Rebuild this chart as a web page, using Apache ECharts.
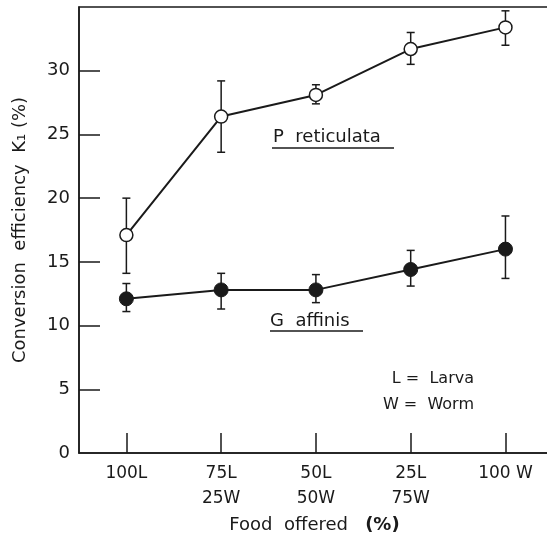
<!DOCTYPE html>
<html lang="en">
<head>
    <meta charset="UTF-8">
    <title>Conversion efficiency</title>
    <style>
        html, body { margin: 0; padding: 0; background: #fff; }
    </style>
</head>
<body>
    <div id="main" style="width: 547px; height: 537px;"></div>
    <script src="https://cdn.jsdelivr.net/npm/echarts@6/dist/echarts.min.js"></script>
    <script>
        // food mix on the x axis
        const categories = ['100L', '75L\n25W', '50L\n50W', '25L\n75W', '100 W'];
        const xTicks = [0, 1, 2, 3, 4];
        const yTicks = [0, 5, 10, 15, 20, 25, 30];

        // P. reticulata (open circles)
        const pReticulata = [17.1, 26.4, 28.1, 31.7, 33.4];
        const pLow = [14.1, 23.6, 27.4, 30.5, 32.0];
        const pHigh = [20.0, 29.2, 28.9, 33.0, 34.7];

        // G. affinis (filled circles)
        const gAffinis = [12.1, 12.8, 12.8, 14.4, 16.0];
        const gLow = [11.1, 11.3, 11.8, 13.1, 13.7];
        const gHigh = [13.3, 14.1, 14.0, 15.9, 18.6];

        const font = 'DejaVu Sans';
        const ink = '#1a1a1a';

        function errorSeries(low, high) {
            return {
                type: 'custom',
                z: 1,
                data: low.map(function (v, i) { return [i, v, high[i]]; }),
                renderItem: function (params, api) {
                    let a = api.coord([api.value(0), api.value(1)]);
                    let b = api.coord([api.value(0), api.value(2)]);
                    let cap = 4;
                    let st = { stroke: ink, lineWidth: 1.5 };
                    return {
                        type: 'group',
                        children: [
                            { type: 'line', shape: { x1: a[0], y1: a[1], x2: b[0], y2: b[1] }, style: st },
                            { type: 'line', shape: { x1: a[0] - cap, y1: a[1], x2: a[0] + cap, y2: a[1] }, style: st },
                            { type: 'line', shape: { x1: b[0] - cap, y1: b[1], x2: b[0] + cap, y2: b[1] }, style: st }
                        ]
                    };
                }
            };
        }

        let chart = echarts.init(document.getElementById('main'));
        chart.setOption({
            animation: false,
            backgroundColor: '#fff',
            grid: {
                left: 79, top: 7, right: -3, bottom: 84,
                outerBoundsMode: 'none',
                show: true,
                borderColor: ink,
                borderWidth: 1.5
            },
            xAxis: {
                type: 'value',
                min: -0.5,
                max: 4.47,
                name: 'Food  offered   {b|(%)}',
                nameLocation: 'middle',
                nameGap: 63,
                nameTextStyle: {
                    fontFamily: font, fontSize: 18, color: ink,
                    rich: { b: { fontFamily: font, fontSize: 18, fontWeight: 'bold', color: ink } }
                },
                axisLine: { onZero: false, lineStyle: { color: ink, width: 1.5 } },
                axisTick: { inside: true, length: 20, customValues: xTicks, lineStyle: { color: ink, width: 1.5 } },
                axisLabel: {
                    customValues: xTicks,
                    formatter: function (v) { return categories[Math.round(v)]; },
                    margin: 8,
                    fontFamily: font, fontSize: 17, lineHeight: 25, color: ink
                },
                splitLine: { show: false }
            },
            yAxis: {
                type: 'value',
                min: 0,
                max: 35,
                interval: 5,
                name: 'Conversion  efficiency  K\u2081 (%)',
                nameLocation: 'middle',
                nameGap: 50,
                nameTextStyle: { fontFamily: font, fontSize: 18, color: ink },
                axisLine: { show: true, onZero: false, lineStyle: { color: ink, width: 1.5 } },
                axisTick: { inside: true, length: 21, customValues: [5, 10, 15, 20, 25, 30], lineStyle: { color: ink, width: 1.5 } },
                axisLabel: { customValues: yTicks, margin: 9, fontFamily: font, fontSize: 18, color: ink },
                splitLine: { show: false }
            },
            graphic: [
                { type: 'text', style: { text: 'P  reticulata', x: 273, y: 137, verticalAlign: 'middle', font: '18px "DejaVu Sans"', fill: ink } },
                { type: 'line', shape: { x1: 272, y1: 148, x2: 394, y2: 148 }, style: { stroke: ink, lineWidth: 1.5 } },
                { type: 'text', style: { text: 'G  affinis', x: 270, y: 321, verticalAlign: 'middle', font: '18px "DejaVu Sans"', fill: ink } },
                { type: 'line', shape: { x1: 270, y1: 331, x2: 363, y2: 331 }, style: { stroke: ink, lineWidth: 1.5 } },
                { type: 'text', style: { text: 'L =  Larva', x: 474, y: 379, align: 'right', verticalAlign: 'middle', font: '16px "DejaVu Sans"', fill: ink } },
                { type: 'text', style: { text: 'W =  Worm', x: 474, y: 405, align: 'right', verticalAlign: 'middle', font: '16px "DejaVu Sans"', fill: ink } }
            ],
            series: [
                errorSeries(pLow, pHigh),
                errorSeries(gLow, gHigh),
                {
                    name: 'P. reticulata',
                    type: 'line',
                    z: 3,
                    data: pReticulata.map(function (v, i) { return [i, v]; }),
                    symbol: 'circle',
                    symbolSize: 13,
                    lineStyle: { color: ink, width: 2 },
                    itemStyle: { color: '#fff', borderColor: ink, borderWidth: 1.5 }
                },
                {
                    name: 'G. affinis',
                    type: 'line',
                    z: 3,
                    data: gAffinis.map(function (v, i) { return [i, v]; }),
                    symbol: 'circle',
                    symbolSize: 14,
                    lineStyle: { color: ink, width: 2 },
                    itemStyle: { color: ink, borderColor: ink, borderWidth: 1 }
                }
            ]
        });
    </script>
</body>
</html>
